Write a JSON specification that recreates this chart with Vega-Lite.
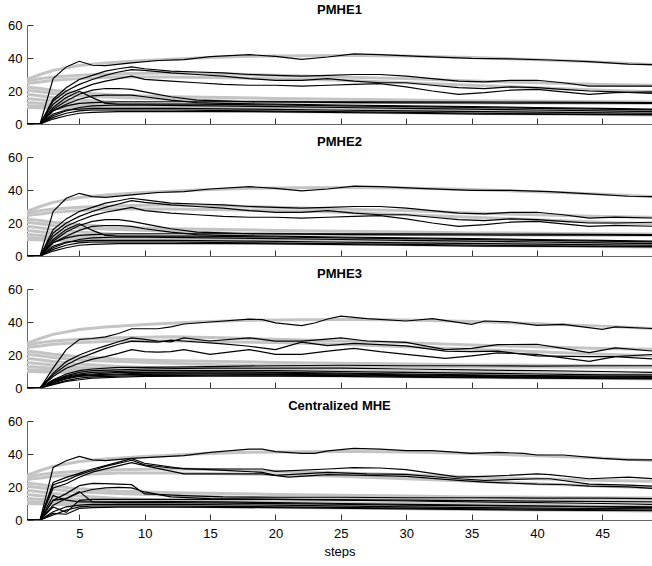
{
"$schema":"https://vega.github.io/schema/vega-lite/v6.json",
"padding":{"left":0,"top":4,"right":0,"bottom":0},
"spacing":5,
"config":{"font":"Liberation Sans","view":{"stroke":null},
"axis":{"grid":false,"labelFont":"Liberation Sans","labelFontSize":13,"labelColor":"#000","labelOverlap":false,"domainColor":"#666","domainWidth":1,"tickColor":"#333","tickSize":-6,"titleFont":"Liberation Sans","titleFontSize":13,"titleFontWeight":"normal","titleColor":"#000"},
"title":{"font":"Liberation Sans","fontSize":13,"fontWeight":"bold","color":"#000","anchor":"middle","offset":2,"baseline":"alphabetic","frame":"group"}},
"datasets":{
"truth":[
{"s":"T1","t":1,"v":27},{"s":"T1","t":2,"v":30},{"s":"T1","t":3,"v":32.5},{"s":"T1","t":5,"v":35.5},{"s":"T1","t":7,"v":37},{"s":"T1","t":10,"v":38.5},{"s":"T1","t":14,"v":40},{"s":"T1","t":18,"v":41},{"s":"T1","t":22,"v":41.3},{"s":"T1","t":26,"v":41.5},{"s":"T1","t":30,"v":41.2},{"s":"T1","t":35,"v":40.3},{"s":"T1","t":40,"v":39},{"s":"T1","t":45,"v":37.5},{"s":"T1","t":49,"v":36},
{"s":"T2","t":1,"v":26},{"s":"T2","t":2,"v":27.5},{"s":"T2","t":3,"v":28.5},{"s":"T2","t":5,"v":29.5},{"s":"T2","t":8,"v":30.5},{"s":"T2","t":12,"v":31},{"s":"T2","t":16,"v":30.5},{"s":"T2","t":20,"v":29.5},{"s":"T2","t":25,"v":28.5},{"s":"T2","t":30,"v":27.5},{"s":"T2","t":35,"v":26},{"s":"T2","t":40,"v":25},{"s":"T2","t":45,"v":24},{"s":"T2","t":49,"v":23.5},
{"s":"T3","t":1,"v":24.5},{"s":"T3","t":2,"v":25.5},{"s":"T3","t":3,"v":26.5},{"s":"T3","t":5,"v":27.5},{"s":"T3","t":8,"v":28.5},{"s":"T3","t":12,"v":28.5},{"s":"T3","t":16,"v":28},{"s":"T3","t":20,"v":27.5},{"s":"T3","t":25,"v":26.5},{"s":"T3","t":30,"v":25},{"s":"T3","t":35,"v":23.5},{"s":"T3","t":40,"v":22},{"s":"T3","t":45,"v":20.5},{"s":"T3","t":49,"v":19.5},
{"s":"T4","t":1,"v":22.5},{"s":"T4","t":2,"v":21.5},{"s":"T4","t":3,"v":20.5},{"s":"T4","t":5,"v":19},{"s":"T4","t":8,"v":17.5},{"s":"T4","t":12,"v":16.5},{"s":"T4","t":16,"v":16},{"s":"T4","t":20,"v":15.5},{"s":"T4","t":25,"v":15},{"s":"T4","t":30,"v":14.5},{"s":"T4","t":35,"v":14},{"s":"T4","t":40,"v":13.8},{"s":"T4","t":45,"v":13.5},{"s":"T4","t":49,"v":13.3},
{"s":"T5","t":1,"v":20.5},{"s":"T5","t":2,"v":19.5},{"s":"T5","t":3,"v":18.5},{"s":"T5","t":5,"v":17},{"s":"T5","t":8,"v":16},{"s":"T5","t":12,"v":15},{"s":"T5","t":16,"v":14},{"s":"T5","t":20,"v":13.5},{"s":"T5","t":25,"v":13},{"s":"T5","t":30,"v":13},{"s":"T5","t":35,"v":12.8},{"s":"T5","t":40,"v":12.7},{"s":"T5","t":45,"v":12.6},{"s":"T5","t":49,"v":12.5},
{"s":"T6","t":1,"v":18},{"s":"T6","t":3,"v":16},{"s":"T6","t":5,"v":14.5},{"s":"T6","t":8,"v":13},{"s":"T6","t":12,"v":12},{"s":"T6","t":16,"v":11.5},{"s":"T6","t":20,"v":11},{"s":"T6","t":25,"v":10.5},{"s":"T6","t":30,"v":10},{"s":"T6","t":35,"v":9.5},{"s":"T6","t":40,"v":9},{"s":"T6","t":45,"v":8.5},{"s":"T6","t":49,"v":8},
{"s":"T7","t":1,"v":15.5},{"s":"T7","t":3,"v":14},{"s":"T7","t":5,"v":12.5},{"s":"T7","t":8,"v":11.5},{"s":"T7","t":12,"v":11},{"s":"T7","t":16,"v":10.5},{"s":"T7","t":20,"v":10},{"s":"T7","t":25,"v":9.5},{"s":"T7","t":30,"v":9},{"s":"T7","t":35,"v":8.5},{"s":"T7","t":40,"v":8},{"s":"T7","t":45,"v":7.5},{"s":"T7","t":49,"v":7},
{"s":"T8","t":1,"v":13},{"s":"T8","t":3,"v":12},{"s":"T8","t":5,"v":11},{"s":"T8","t":8,"v":10.5},{"s":"T8","t":12,"v":10},{"s":"T8","t":16,"v":9.5},{"s":"T8","t":20,"v":9},{"s":"T8","t":25,"v":8.5},{"s":"T8","t":30,"v":8},{"s":"T8","t":35,"v":7.5},{"s":"T8","t":40,"v":7},{"s":"T8","t":45,"v":6.5},{"s":"T8","t":49,"v":6.2},
{"s":"T9","t":1,"v":11},{"s":"T9","t":3,"v":10.5},{"s":"T9","t":5,"v":10},{"s":"T9","t":8,"v":9.5},{"s":"T9","t":12,"v":9},{"s":"T9","t":16,"v":8.5},{"s":"T9","t":20,"v":8},{"s":"T9","t":25,"v":7.5},{"s":"T9","t":30,"v":7.2},{"s":"T9","t":35,"v":6.8},{"s":"T9","t":40,"v":6.5},{"s":"T9","t":45,"v":6},{"s":"T9","t":49,"v":5.8},
{"s":"T10","t":1,"v":10},{"s":"T10","t":3,"v":9.5},{"s":"T10","t":5,"v":9},{"s":"T10","t":8,"v":8.7},{"s":"T10","t":12,"v":8.3},{"s":"T10","t":16,"v":8},{"s":"T10","t":20,"v":7.6},{"s":"T10","t":25,"v":7.2},{"s":"T10","t":30,"v":6.8},{"s":"T10","t":35,"v":6.4},{"s":"T10","t":40,"v":6},{"s":"T10","t":45,"v":5.7},{"s":"T10","t":49,"v":5.5}
],
"est":[
{"p":1,"s":"A","t":1,"v":0},{"p":1,"s":"A","t":2,"v":0},{"p":1,"s":"A","t":3,"v":27.6},{"p":1,"s":"A","t":4,"v":34.6},{"p":1,"s":"A","t":5,"v":38},{"p":1,"s":"A","t":6,"v":35.6},{"p":1,"s":"A","t":7,"v":35.4},{"p":1,"s":"A","t":9,"v":37},{"p":1,"s":"A","t":11,"v":38.5},{"p":1,"s":"A","t":13,"v":39},{"p":1,"s":"A","t":15,"v":40.8},{"p":1,"s":"A","t":18,"v":42},{"p":1,"s":"A","t":20,"v":41},{"p":1,"s":"A","t":22,"v":39.2},{"p":1,"s":"A","t":24,"v":40.6},{"p":1,"s":"A","t":26,"v":42.5},{"p":1,"s":"A","t":28,"v":42},{"p":1,"s":"A","t":31,"v":41},{"p":1,"s":"A","t":35,"v":39.8},{"p":1,"s":"A","t":38,"v":39.5},{"p":1,"s":"A","t":41,"v":38.8},{"p":1,"s":"A","t":44,"v":37.8},{"p":1,"s":"A","t":47,"v":36.3},{"p":1,"s":"A","t":49,"v":36},
{"p":1,"s":"B","t":1,"v":0},{"p":1,"s":"B","t":2,"v":0},{"p":1,"s":"B","t":3,"v":15},{"p":1,"s":"B","t":4,"v":22},{"p":1,"s":"B","t":5,"v":27},{"p":1,"s":"B","t":6,"v":29.5},{"p":1,"s":"B","t":7,"v":32},{"p":1,"s":"B","t":8,"v":33.5},{"p":1,"s":"B","t":9,"v":34.6},{"p":1,"s":"B","t":10,"v":33.5},{"p":1,"s":"B","t":12,"v":32},{"p":1,"s":"B","t":14,"v":31.5},{"p":1,"s":"B","t":16,"v":31},{"p":1,"s":"B","t":18,"v":30},{"p":1,"s":"B","t":20,"v":29.5},{"p":1,"s":"B","t":22,"v":29},{"p":1,"s":"B","t":24,"v":29.5},{"p":1,"s":"B","t":26,"v":30},{"p":1,"s":"B","t":28,"v":30},{"p":1,"s":"B","t":30,"v":29},{"p":1,"s":"B","t":32,"v":27.5},{"p":1,"s":"B","t":34,"v":26},{"p":1,"s":"B","t":36,"v":25.5},{"p":1,"s":"B","t":38,"v":26.5},{"p":1,"s":"B","t":40,"v":26.5},{"p":1,"s":"B","t":42,"v":25},{"p":1,"s":"B","t":44,"v":23},{"p":1,"s":"B","t":46,"v":23},{"p":1,"s":"B","t":49,"v":23},
{"p":1,"s":"C","t":1,"v":0},{"p":1,"s":"C","t":2,"v":0},{"p":1,"s":"C","t":3,"v":12},{"p":1,"s":"C","t":4,"v":18},{"p":1,"s":"C","t":5,"v":21},{"p":1,"s":"C","t":6,"v":24},{"p":1,"s":"C","t":7,"v":26},{"p":1,"s":"C","t":8,"v":27.5},{"p":1,"s":"C","t":9,"v":29},{"p":1,"s":"C","t":10,"v":27},{"p":1,"s":"C","t":12,"v":26},{"p":1,"s":"C","t":14,"v":25},{"p":1,"s":"C","t":16,"v":24},{"p":1,"s":"C","t":18,"v":23.5},{"p":1,"s":"C","t":20,"v":23.5},{"p":1,"s":"C","t":22,"v":23},{"p":1,"s":"C","t":24,"v":23.5},{"p":1,"s":"C","t":26,"v":24},{"p":1,"s":"C","t":28,"v":24.5},{"p":1,"s":"C","t":30,"v":22.5},{"p":1,"s":"C","t":32,"v":20},{"p":1,"s":"C","t":34,"v":18},{"p":1,"s":"C","t":36,"v":19},{"p":1,"s":"C","t":38,"v":20.5},{"p":1,"s":"C","t":40,"v":21},{"p":1,"s":"C","t":42,"v":19.5},{"p":1,"s":"C","t":44,"v":18},{"p":1,"s":"C","t":46,"v":19},{"p":1,"s":"C","t":49,"v":19.5},
{"p":1,"s":"D","t":1,"v":0},{"p":1,"s":"D","t":2,"v":0},{"p":1,"s":"D","t":3,"v":14},{"p":1,"s":"D","t":4,"v":20},{"p":1,"s":"D","t":5,"v":24},{"p":1,"s":"D","t":6,"v":27},{"p":1,"s":"D","t":7,"v":29.5},{"p":1,"s":"D","t":8,"v":31.5},{"p":1,"s":"D","t":9,"v":33},{"p":1,"s":"D","t":10,"v":32.5},{"p":1,"s":"D","t":12,"v":31},{"p":1,"s":"D","t":14,"v":30},{"p":1,"s":"D","t":16,"v":29},{"p":1,"s":"D","t":18,"v":27.5},{"p":1,"s":"D","t":20,"v":26.5},{"p":1,"s":"D","t":22,"v":26.5},{"p":1,"s":"D","t":24,"v":27.5},{"p":1,"s":"D","t":26,"v":26},{"p":1,"s":"D","t":28,"v":25},{"p":1,"s":"D","t":30,"v":25},{"p":1,"s":"D","t":32,"v":23.5},{"p":1,"s":"D","t":34,"v":22},{"p":1,"s":"D","t":36,"v":21.5},{"p":1,"s":"D","t":38,"v":22.5},{"p":1,"s":"D","t":40,"v":22},{"p":1,"s":"D","t":42,"v":21},{"p":1,"s":"D","t":44,"v":20},{"p":1,"s":"D","t":46,"v":19.5},{"p":1,"s":"D","t":49,"v":18.5},
{"p":1,"s":"E","t":1,"v":0},{"p":1,"s":"E","t":2,"v":0},{"p":1,"s":"E","t":3,"v":9},{"p":1,"s":"E","t":4,"v":14},{"p":1,"s":"E","t":5,"v":18},{"p":1,"s":"E","t":6,"v":20.5},{"p":1,"s":"E","t":7,"v":21.5},{"p":1,"s":"E","t":8,"v":21.5},{"p":1,"s":"E","t":9,"v":21},{"p":1,"s":"E","t":10,"v":19.5},{"p":1,"s":"E","t":11,"v":18},{"p":1,"s":"E","t":12,"v":16.5},{"p":1,"s":"E","t":14,"v":14.5},{"p":1,"s":"E","t":16,"v":14},{"p":1,"s":"E","t":18,"v":13.5},{"p":1,"s":"E","t":22,"v":13.2},{"p":1,"s":"E","t":26,"v":13},{"p":1,"s":"E","t":30,"v":12.8},{"p":1,"s":"E","t":35,"v":12.8},{"p":1,"s":"E","t":40,"v":12.6},{"p":1,"s":"E","t":45,"v":12.6},{"p":1,"s":"E","t":49,"v":12.5},
{"p":1,"s":"F","t":1,"v":0},{"p":1,"s":"F","t":2,"v":0},{"p":1,"s":"F","t":3,"v":8},{"p":1,"s":"F","t":4,"v":12},{"p":1,"s":"F","t":5,"v":15},{"p":1,"s":"F","t":6,"v":17},{"p":1,"s":"F","t":7,"v":17.5},{"p":1,"s":"F","t":8,"v":17.5},{"p":1,"s":"F","t":9,"v":17.5},{"p":1,"s":"F","t":10,"v":16.5},{"p":1,"s":"F","t":12,"v":14.5},{"p":1,"s":"F","t":14,"v":13},{"p":1,"s":"F","t":16,"v":12.5},{"p":1,"s":"F","t":20,"v":12},{"p":1,"s":"F","t":25,"v":11.5},{"p":1,"s":"F","t":30,"v":11},{"p":1,"s":"F","t":35,"v":10.5},{"p":1,"s":"F","t":40,"v":10},{"p":1,"s":"F","t":45,"v":9.5},{"p":1,"s":"F","t":49,"v":9},
{"p":1,"s":"G","t":1,"v":0},{"p":1,"s":"G","t":2,"v":0},{"p":1,"s":"G","t":3,"v":10},{"p":1,"s":"G","t":4,"v":16},{"p":1,"s":"G","t":5,"v":19.8},{"p":1,"s":"G","t":6,"v":16},{"p":1,"s":"G","t":7,"v":12.5},{"p":1,"s":"G","t":8,"v":12},{"p":1,"s":"G","t":10,"v":12},{"p":1,"s":"G","t":14,"v":12},{"p":1,"s":"G","t":20,"v":11.5},{"p":1,"s":"G","t":25,"v":11},{"p":1,"s":"G","t":30,"v":10.5},{"p":1,"s":"G","t":35,"v":10},{"p":1,"s":"G","t":40,"v":9.5},{"p":1,"s":"G","t":45,"v":9},{"p":1,"s":"G","t":49,"v":8.5},
{"p":1,"s":"H","t":1,"v":0},{"p":1,"s":"H","t":2,"v":0},{"p":1,"s":"H","t":3,"v":8},{"p":1,"s":"H","t":4,"v":11},{"p":1,"s":"H","t":5,"v":12.5},{"p":1,"s":"H","t":6,"v":13},{"p":1,"s":"H","t":8,"v":13.5},{"p":1,"s":"H","t":10,"v":13.5},{"p":1,"s":"H","t":15,"v":13.5},{"p":1,"s":"H","t":20,"v":13.5},{"p":1,"s":"H","t":30,"v":13.5},{"p":1,"s":"H","t":40,"v":13.3},{"p":1,"s":"H","t":49,"v":13},
{"p":1,"s":"I","t":1,"v":0},{"p":1,"s":"I","t":2,"v":0},{"p":1,"s":"I","t":3,"v":5},{"p":1,"s":"I","t":4,"v":8},{"p":1,"s":"I","t":5,"v":10},{"p":1,"s":"I","t":6,"v":11},{"p":1,"s":"I","t":8,"v":11.5},{"p":1,"s":"I","t":10,"v":11.5},{"p":1,"s":"I","t":15,"v":11},{"p":1,"s":"I","t":20,"v":10.5},{"p":1,"s":"I","t":25,"v":10},{"p":1,"s":"I","t":30,"v":9.5},{"p":1,"s":"I","t":35,"v":9},{"p":1,"s":"I","t":40,"v":8.5},{"p":1,"s":"I","t":45,"v":8},{"p":1,"s":"I","t":49,"v":7.5},
{"p":1,"s":"J","t":1,"v":0},{"p":1,"s":"J","t":2,"v":0},{"p":1,"s":"J","t":3,"v":6},{"p":1,"s":"J","t":4,"v":8.5},{"p":1,"s":"J","t":5,"v":9},{"p":1,"s":"J","t":6,"v":9.5},{"p":1,"s":"J","t":8,"v":9.5},{"p":1,"s":"J","t":12,"v":9.5},{"p":1,"s":"J","t":18,"v":9},{"p":1,"s":"J","t":24,"v":8.5},{"p":1,"s":"J","t":30,"v":8},{"p":1,"s":"J","t":36,"v":7.5},{"p":1,"s":"J","t":42,"v":7},{"p":1,"s":"J","t":49,"v":6.5},
{"p":1,"s":"K","t":1,"v":0},{"p":1,"s":"K","t":2,"v":0},{"p":1,"s":"K","t":3,"v":4},{"p":1,"s":"K","t":4,"v":6.5},{"p":1,"s":"K","t":5,"v":8},{"p":1,"s":"K","t":6,"v":8.5},{"p":1,"s":"K","t":8,"v":8.5},{"p":1,"s":"K","t":12,"v":8.5},{"p":1,"s":"K","t":18,"v":8},{"p":1,"s":"K","t":24,"v":7.5},{"p":1,"s":"K","t":30,"v":7},{"p":1,"s":"K","t":36,"v":6.5},{"p":1,"s":"K","t":42,"v":6},{"p":1,"s":"K","t":49,"v":5.8},
{"p":1,"s":"L","t":1,"v":0},{"p":1,"s":"L","t":2,"v":0},{"p":1,"s":"L","t":3,"v":3},{"p":1,"s":"L","t":4,"v":5},{"p":1,"s":"L","t":5,"v":6.5},{"p":1,"s":"L","t":6,"v":7},{"p":1,"s":"L","t":8,"v":7.5},{"p":1,"s":"L","t":12,"v":7.5},{"p":1,"s":"L","t":18,"v":7.5},{"p":1,"s":"L","t":24,"v":7},{"p":1,"s":"L","t":30,"v":6.5},{"p":1,"s":"L","t":36,"v":6},{"p":1,"s":"L","t":42,"v":5.8},{"p":1,"s":"L","t":49,"v":5.5},

{"p":2,"s":"A","t":1,"v":0},{"p":2,"s":"A","t":2,"v":0},{"p":2,"s":"A","t":3,"v":27},{"p":2,"s":"A","t":4,"v":35},{"p":2,"s":"A","t":5,"v":38},{"p":2,"s":"A","t":6,"v":36},{"p":2,"s":"A","t":7,"v":35.5},{"p":2,"s":"A","t":9,"v":37},{"p":2,"s":"A","t":11,"v":38.5},{"p":2,"s":"A","t":13,"v":39},{"p":2,"s":"A","t":15,"v":40.6},{"p":2,"s":"A","t":18,"v":42},{"p":2,"s":"A","t":20,"v":41},{"p":2,"s":"A","t":22,"v":39.5},{"p":2,"s":"A","t":24,"v":40.6},{"p":2,"s":"A","t":26,"v":42.3},{"p":2,"s":"A","t":28,"v":42},{"p":2,"s":"A","t":31,"v":41},{"p":2,"s":"A","t":35,"v":39.8},{"p":2,"s":"A","t":38,"v":39.8},{"p":2,"s":"A","t":41,"v":39},{"p":2,"s":"A","t":44,"v":37.6},{"p":2,"s":"A","t":47,"v":36.2},{"p":2,"s":"A","t":49,"v":36},
{"p":2,"s":"B","t":1,"v":0},{"p":2,"s":"B","t":2,"v":0},{"p":2,"s":"B","t":3,"v":16},{"p":2,"s":"B","t":4,"v":22.5},{"p":2,"s":"B","t":5,"v":27},{"p":2,"s":"B","t":6,"v":29.5},{"p":2,"s":"B","t":7,"v":32},{"p":2,"s":"B","t":8,"v":33.5},{"p":2,"s":"B","t":9,"v":35},{"p":2,"s":"B","t":10,"v":34},{"p":2,"s":"B","t":12,"v":32},{"p":2,"s":"B","t":14,"v":31.5},{"p":2,"s":"B","t":16,"v":31},{"p":2,"s":"B","t":18,"v":30},{"p":2,"s":"B","t":20,"v":29.5},{"p":2,"s":"B","t":22,"v":29},{"p":2,"s":"B","t":24,"v":29.5},{"p":2,"s":"B","t":26,"v":30},{"p":2,"s":"B","t":28,"v":30},{"p":2,"s":"B","t":30,"v":29},{"p":2,"s":"B","t":32,"v":27.5},{"p":2,"s":"B","t":34,"v":26},{"p":2,"s":"B","t":36,"v":25.5},{"p":2,"s":"B","t":38,"v":26.5},{"p":2,"s":"B","t":40,"v":26.5},{"p":2,"s":"B","t":42,"v":25},{"p":2,"s":"B","t":44,"v":23},{"p":2,"s":"B","t":46,"v":23.5},{"p":2,"s":"B","t":49,"v":23},
{"p":2,"s":"C","t":1,"v":0},{"p":2,"s":"C","t":2,"v":0},{"p":2,"s":"C","t":3,"v":12},{"p":2,"s":"C","t":4,"v":18},{"p":2,"s":"C","t":5,"v":21.5},{"p":2,"s":"C","t":6,"v":24.5},{"p":2,"s":"C","t":7,"v":26.5},{"p":2,"s":"C","t":8,"v":28},{"p":2,"s":"C","t":9,"v":29.5},{"p":2,"s":"C","t":10,"v":27.5},{"p":2,"s":"C","t":12,"v":26},{"p":2,"s":"C","t":14,"v":25},{"p":2,"s":"C","t":16,"v":24},{"p":2,"s":"C","t":18,"v":23.5},{"p":2,"s":"C","t":20,"v":23.5},{"p":2,"s":"C","t":22,"v":23},{"p":2,"s":"C","t":24,"v":23.5},{"p":2,"s":"C","t":26,"v":24},{"p":2,"s":"C","t":28,"v":24.5},{"p":2,"s":"C","t":30,"v":22.5},{"p":2,"s":"C","t":32,"v":20},{"p":2,"s":"C","t":34,"v":18},{"p":2,"s":"C","t":36,"v":19},{"p":2,"s":"C","t":38,"v":20.5},{"p":2,"s":"C","t":40,"v":21},{"p":2,"s":"C","t":42,"v":19.5},{"p":2,"s":"C","t":44,"v":18},{"p":2,"s":"C","t":46,"v":18.5},{"p":2,"s":"C","t":49,"v":18},
{"p":2,"s":"D","t":1,"v":0},{"p":2,"s":"D","t":2,"v":0},{"p":2,"s":"D","t":3,"v":14},{"p":2,"s":"D","t":4,"v":20},{"p":2,"s":"D","t":5,"v":24},{"p":2,"s":"D","t":6,"v":27},{"p":2,"s":"D","t":7,"v":29.5},{"p":2,"s":"D","t":8,"v":31.5},{"p":2,"s":"D","t":9,"v":33.5},{"p":2,"s":"D","t":10,"v":32.5},{"p":2,"s":"D","t":12,"v":31},{"p":2,"s":"D","t":14,"v":30},{"p":2,"s":"D","t":16,"v":29},{"p":2,"s":"D","t":18,"v":27.5},{"p":2,"s":"D","t":20,"v":26.5},{"p":2,"s":"D","t":22,"v":26.5},{"p":2,"s":"D","t":24,"v":27.5},{"p":2,"s":"D","t":26,"v":26},{"p":2,"s":"D","t":28,"v":25},{"p":2,"s":"D","t":30,"v":25},{"p":2,"s":"D","t":32,"v":23.5},{"p":2,"s":"D","t":34,"v":22},{"p":2,"s":"D","t":36,"v":21.5},{"p":2,"s":"D","t":38,"v":22.5},{"p":2,"s":"D","t":40,"v":22},{"p":2,"s":"D","t":42,"v":21},{"p":2,"s":"D","t":44,"v":20},{"p":2,"s":"D","t":46,"v":20},{"p":2,"s":"D","t":49,"v":20.5},
{"p":2,"s":"E","t":1,"v":0},{"p":2,"s":"E","t":2,"v":0},{"p":2,"s":"E","t":3,"v":9},{"p":2,"s":"E","t":4,"v":14.5},{"p":2,"s":"E","t":5,"v":18.5},{"p":2,"s":"E","t":6,"v":21},{"p":2,"s":"E","t":7,"v":22},{"p":2,"s":"E","t":8,"v":22},{"p":2,"s":"E","t":9,"v":21},{"p":2,"s":"E","t":10,"v":19.5},{"p":2,"s":"E","t":11,"v":18},{"p":2,"s":"E","t":12,"v":16.5},{"p":2,"s":"E","t":14,"v":14.5},{"p":2,"s":"E","t":16,"v":14},{"p":2,"s":"E","t":18,"v":13.5},{"p":2,"s":"E","t":22,"v":13.2},{"p":2,"s":"E","t":26,"v":13},{"p":2,"s":"E","t":30,"v":12.8},{"p":2,"s":"E","t":35,"v":12.8},{"p":2,"s":"E","t":40,"v":12.6},{"p":2,"s":"E","t":45,"v":12.6},{"p":2,"s":"E","t":49,"v":12.5},
{"p":2,"s":"F","t":1,"v":0},{"p":2,"s":"F","t":2,"v":0},{"p":2,"s":"F","t":3,"v":8},{"p":2,"s":"F","t":4,"v":12},{"p":2,"s":"F","t":5,"v":15.5},{"p":2,"s":"F","t":6,"v":18},{"p":2,"s":"F","t":7,"v":18.5},{"p":2,"s":"F","t":8,"v":18.5},{"p":2,"s":"F","t":9,"v":18},{"p":2,"s":"F","t":10,"v":16.5},{"p":2,"s":"F","t":12,"v":14.5},{"p":2,"s":"F","t":14,"v":13},{"p":2,"s":"F","t":16,"v":12.5},{"p":2,"s":"F","t":20,"v":12},{"p":2,"s":"F","t":25,"v":11.5},{"p":2,"s":"F","t":30,"v":11},{"p":2,"s":"F","t":35,"v":10.5},{"p":2,"s":"F","t":40,"v":10},{"p":2,"s":"F","t":45,"v":9.5},{"p":2,"s":"F","t":49,"v":9},
{"p":2,"s":"G","t":1,"v":0},{"p":2,"s":"G","t":2,"v":0},{"p":2,"s":"G","t":3,"v":10},{"p":2,"s":"G","t":4,"v":16},{"p":2,"s":"G","t":5,"v":19.5},{"p":2,"s":"G","t":6,"v":15.5},{"p":2,"s":"G","t":7,"v":12.5},{"p":2,"s":"G","t":8,"v":12},{"p":2,"s":"G","t":10,"v":12},{"p":2,"s":"G","t":14,"v":12},{"p":2,"s":"G","t":20,"v":11.5},{"p":2,"s":"G","t":25,"v":11},{"p":2,"s":"G","t":30,"v":10.5},{"p":2,"s":"G","t":35,"v":10},{"p":2,"s":"G","t":40,"v":9.5},{"p":2,"s":"G","t":45,"v":9},{"p":2,"s":"G","t":49,"v":8.5},
{"p":2,"s":"H","t":1,"v":0},{"p":2,"s":"H","t":2,"v":0},{"p":2,"s":"H","t":3,"v":8},{"p":2,"s":"H","t":4,"v":11},{"p":2,"s":"H","t":5,"v":12.5},{"p":2,"s":"H","t":6,"v":13},{"p":2,"s":"H","t":8,"v":13.5},{"p":2,"s":"H","t":10,"v":13.5},{"p":2,"s":"H","t":15,"v":13.5},{"p":2,"s":"H","t":20,"v":13.5},{"p":2,"s":"H","t":30,"v":13.5},{"p":2,"s":"H","t":40,"v":13.3},{"p":2,"s":"H","t":49,"v":13},
{"p":2,"s":"I","t":1,"v":0},{"p":2,"s":"I","t":2,"v":0},{"p":2,"s":"I","t":3,"v":5},{"p":2,"s":"I","t":4,"v":8},{"p":2,"s":"I","t":5,"v":10},{"p":2,"s":"I","t":6,"v":11},{"p":2,"s":"I","t":8,"v":11.5},{"p":2,"s":"I","t":10,"v":11.5},{"p":2,"s":"I","t":15,"v":11},{"p":2,"s":"I","t":20,"v":10.5},{"p":2,"s":"I","t":25,"v":10},{"p":2,"s":"I","t":30,"v":9.5},{"p":2,"s":"I","t":35,"v":9},{"p":2,"s":"I","t":40,"v":8.5},{"p":2,"s":"I","t":45,"v":8},{"p":2,"s":"I","t":49,"v":7.5},
{"p":2,"s":"J","t":1,"v":0},{"p":2,"s":"J","t":2,"v":0},{"p":2,"s":"J","t":3,"v":6},{"p":2,"s":"J","t":4,"v":8.5},{"p":2,"s":"J","t":5,"v":9},{"p":2,"s":"J","t":6,"v":9.5},{"p":2,"s":"J","t":8,"v":9.5},{"p":2,"s":"J","t":12,"v":9.5},{"p":2,"s":"J","t":18,"v":9},{"p":2,"s":"J","t":24,"v":8.5},{"p":2,"s":"J","t":30,"v":8},{"p":2,"s":"J","t":36,"v":7.5},{"p":2,"s":"J","t":42,"v":7},{"p":2,"s":"J","t":49,"v":6.5},
{"p":2,"s":"K","t":1,"v":0},{"p":2,"s":"K","t":2,"v":0},{"p":2,"s":"K","t":3,"v":4},{"p":2,"s":"K","t":4,"v":6.5},{"p":2,"s":"K","t":5,"v":8},{"p":2,"s":"K","t":6,"v":8.5},{"p":2,"s":"K","t":8,"v":8.5},{"p":2,"s":"K","t":12,"v":8.5},{"p":2,"s":"K","t":18,"v":8},{"p":2,"s":"K","t":24,"v":7.5},{"p":2,"s":"K","t":30,"v":7},{"p":2,"s":"K","t":36,"v":6.5},{"p":2,"s":"K","t":42,"v":6},{"p":2,"s":"K","t":49,"v":5.8},
{"p":2,"s":"L","t":1,"v":0},{"p":2,"s":"L","t":2,"v":0},{"p":2,"s":"L","t":3,"v":3},{"p":2,"s":"L","t":4,"v":5},{"p":2,"s":"L","t":5,"v":6.5},{"p":2,"s":"L","t":6,"v":7},{"p":2,"s":"L","t":8,"v":7.5},{"p":2,"s":"L","t":12,"v":7.5},{"p":2,"s":"L","t":18,"v":7.5},{"p":2,"s":"L","t":24,"v":7},{"p":2,"s":"L","t":30,"v":6.5},{"p":2,"s":"L","t":36,"v":6},{"p":2,"s":"L","t":42,"v":5.8},{"p":2,"s":"L","t":49,"v":5.5},

{"p":3,"s":"A","t":1,"v":0},{"p":3,"s":"A","t":2,"v":0},{"p":3,"s":"A","t":3,"v":12},{"p":3,"s":"A","t":4,"v":23.3},{"p":3,"s":"A","t":5,"v":29.4},{"p":3,"s":"A","t":6,"v":30},{"p":3,"s":"A","t":7,"v":31},{"p":3,"s":"A","t":8,"v":33},{"p":3,"s":"A","t":9,"v":35.9},{"p":3,"s":"A","t":11,"v":35.9},{"p":3,"s":"A","t":12,"v":37},{"p":3,"s":"A","t":13,"v":38.8},{"p":3,"s":"A","t":15,"v":40},{"p":3,"s":"A","t":18,"v":41.8},{"p":3,"s":"A","t":19,"v":41.4},{"p":3,"s":"A","t":20,"v":39.5},{"p":3,"s":"A","t":22,"v":37.8},{"p":3,"s":"A","t":23,"v":39.4},{"p":3,"s":"A","t":24,"v":41.8},{"p":3,"s":"A","t":25,"v":43.5},{"p":3,"s":"A","t":27,"v":42},{"p":3,"s":"A","t":30,"v":40.6},{"p":3,"s":"A","t":32,"v":42},{"p":3,"s":"A","t":35,"v":38.6},{"p":3,"s":"A","t":36,"v":40.6},{"p":3,"s":"A","t":38,"v":40},{"p":3,"s":"A","t":40,"v":38},{"p":3,"s":"A","t":42,"v":38.6},{"p":3,"s":"A","t":45,"v":35.5},{"p":3,"s":"A","t":46,"v":37},{"p":3,"s":"A","t":49,"v":36},
{"p":3,"s":"B","t":1,"v":0},{"p":3,"s":"B","t":2,"v":0},{"p":3,"s":"B","t":3,"v":9},{"p":3,"s":"B","t":4,"v":16},{"p":3,"s":"B","t":5,"v":20},{"p":3,"s":"B","t":6,"v":23},{"p":3,"s":"B","t":7,"v":25.5},{"p":3,"s":"B","t":8,"v":28},{"p":3,"s":"B","t":9,"v":30.4},{"p":3,"s":"B","t":10,"v":29.5},{"p":3,"s":"B","t":11,"v":28.5},{"p":3,"s":"B","t":12,"v":28},{"p":3,"s":"B","t":13,"v":30.4},{"p":3,"s":"B","t":15,"v":28.5},{"p":3,"s":"B","t":18,"v":30.4},{"p":3,"s":"B","t":20,"v":28.4},{"p":3,"s":"B","t":22,"v":28.4},{"p":3,"s":"B","t":23,"v":29},{"p":3,"s":"B","t":25,"v":30.4},{"p":3,"s":"B","t":27,"v":28.5},{"p":3,"s":"B","t":30,"v":27.6},{"p":3,"s":"B","t":33,"v":23.3},{"p":3,"s":"B","t":35,"v":24},{"p":3,"s":"B","t":37,"v":26.3},{"p":3,"s":"B","t":40,"v":26.5},{"p":3,"s":"B","t":42,"v":24},{"p":3,"s":"B","t":44,"v":21.5},{"p":3,"s":"B","t":46,"v":24.3},{"p":3,"s":"B","t":49,"v":22.3},
{"p":3,"s":"C","t":1,"v":0},{"p":3,"s":"C","t":2,"v":0},{"p":3,"s":"C","t":3,"v":7},{"p":3,"s":"C","t":4,"v":12},{"p":3,"s":"C","t":5,"v":15},{"p":3,"s":"C","t":6,"v":17.5},{"p":3,"s":"C","t":7,"v":19},{"p":3,"s":"C","t":8,"v":21},{"p":3,"s":"C","t":9,"v":23.3},{"p":3,"s":"C","t":10,"v":22},{"p":3,"s":"C","t":11,"v":21.7},{"p":3,"s":"C","t":12,"v":22},{"p":3,"s":"C","t":13,"v":23.3},{"p":3,"s":"C","t":15,"v":20.4},{"p":3,"s":"C","t":18,"v":23.3},{"p":3,"s":"C","t":20,"v":20.4},{"p":3,"s":"C","t":22,"v":20.4},{"p":3,"s":"C","t":24,"v":22.3},{"p":3,"s":"C","t":26,"v":24},{"p":3,"s":"C","t":28,"v":22},{"p":3,"s":"C","t":30,"v":20.4},{"p":3,"s":"C","t":33,"v":18},{"p":3,"s":"C","t":35,"v":19.5},{"p":3,"s":"C","t":37,"v":21.3},{"p":3,"s":"C","t":40,"v":20.4},{"p":3,"s":"C","t":44,"v":16.1},{"p":3,"s":"C","t":46,"v":19},{"p":3,"s":"C","t":49,"v":20.4},
{"p":3,"s":"D","t":1,"v":0},{"p":3,"s":"D","t":2,"v":0},{"p":3,"s":"D","t":3,"v":8},{"p":3,"s":"D","t":4,"v":14},{"p":3,"s":"D","t":5,"v":18},{"p":3,"s":"D","t":6,"v":21},{"p":3,"s":"D","t":7,"v":24},{"p":3,"s":"D","t":8,"v":26.5},{"p":3,"s":"D","t":9,"v":28.4},{"p":3,"s":"D","t":11,"v":27.8},{"p":3,"s":"D","t":12,"v":29},{"p":3,"s":"D","t":13,"v":28.5},{"p":3,"s":"D","t":16,"v":26.7},{"p":3,"s":"D","t":18,"v":25.3},{"p":3,"s":"D","t":20,"v":23.3},{"p":3,"s":"D","t":22,"v":27.8},{"p":3,"s":"D","t":24,"v":25.7},{"p":3,"s":"D","t":26,"v":27},{"p":3,"s":"D","t":30,"v":25.5},{"p":3,"s":"D","t":33,"v":22.3},{"p":3,"s":"D","t":35,"v":22},{"p":3,"s":"D","t":37,"v":22.3},{"p":3,"s":"D","t":40,"v":19.5},{"p":3,"s":"D","t":44,"v":19},{"p":3,"s":"D","t":46,"v":19},{"p":3,"s":"D","t":49,"v":17.5},
{"p":3,"s":"E","t":1,"v":0},{"p":3,"s":"E","t":2,"v":0},{"p":3,"s":"E","t":3,"v":5},{"p":3,"s":"E","t":4,"v":8.5},{"p":3,"s":"E","t":5,"v":10.5},{"p":3,"s":"E","t":6,"v":11.5},{"p":3,"s":"E","t":8,"v":12.5},{"p":3,"s":"E","t":10,"v":12.5},{"p":3,"s":"E","t":15,"v":13},{"p":3,"s":"E","t":20,"v":13.5},{"p":3,"s":"E","t":25,"v":13.8},{"p":3,"s":"E","t":30,"v":13.5},{"p":3,"s":"E","t":35,"v":13.5},{"p":3,"s":"E","t":40,"v":13.3},{"p":3,"s":"E","t":45,"v":13.5},{"p":3,"s":"E","t":49,"v":13.5},
{"p":3,"s":"F","t":1,"v":0},{"p":3,"s":"F","t":2,"v":0},{"p":3,"s":"F","t":3,"v":4.5},{"p":3,"s":"F","t":4,"v":7.5},{"p":3,"s":"F","t":5,"v":9.5},{"p":3,"s":"F","t":6,"v":10.5},{"p":3,"s":"F","t":8,"v":11},{"p":3,"s":"F","t":10,"v":11.5},{"p":3,"s":"F","t":15,"v":12},{"p":3,"s":"F","t":20,"v":12},{"p":3,"s":"F","t":25,"v":12},{"p":3,"s":"F","t":30,"v":11.5},{"p":3,"s":"F","t":35,"v":11},{"p":3,"s":"F","t":40,"v":10.5},{"p":3,"s":"F","t":45,"v":10},{"p":3,"s":"F","t":49,"v":9.5},
{"p":3,"s":"G","t":1,"v":0},{"p":3,"s":"G","t":2,"v":0},{"p":3,"s":"G","t":3,"v":4},{"p":3,"s":"G","t":4,"v":7},{"p":3,"s":"G","t":5,"v":8.5},{"p":3,"s":"G","t":6,"v":9.5},{"p":3,"s":"G","t":8,"v":10},{"p":3,"s":"G","t":10,"v":10.5},{"p":3,"s":"G","t":15,"v":10.5},{"p":3,"s":"G","t":20,"v":10.5},{"p":3,"s":"G","t":25,"v":10},{"p":3,"s":"G","t":30,"v":9.5},{"p":3,"s":"G","t":35,"v":9},{"p":3,"s":"G","t":40,"v":8.5},{"p":3,"s":"G","t":45,"v":8},{"p":3,"s":"G","t":49,"v":8},
{"p":3,"s":"H","t":1,"v":0},{"p":3,"s":"H","t":2,"v":0},{"p":3,"s":"H","t":3,"v":4},{"p":3,"s":"H","t":4,"v":6.5},{"p":3,"s":"H","t":5,"v":8},{"p":3,"s":"H","t":6,"v":8.5},{"p":3,"s":"H","t":8,"v":9.5},{"p":3,"s":"H","t":10,"v":9.5},{"p":3,"s":"H","t":15,"v":9.8},{"p":3,"s":"H","t":20,"v":9.5},{"p":3,"s":"H","t":25,"v":9},{"p":3,"s":"H","t":30,"v":8.5},{"p":3,"s":"H","t":35,"v":8},{"p":3,"s":"H","t":40,"v":7.5},{"p":3,"s":"H","t":45,"v":7.2},{"p":3,"s":"H","t":49,"v":7},
{"p":3,"s":"I","t":1,"v":0},{"p":3,"s":"I","t":2,"v":0},{"p":3,"s":"I","t":3,"v":3.5},{"p":3,"s":"I","t":4,"v":6},{"p":3,"s":"I","t":5,"v":7.5},{"p":3,"s":"I","t":6,"v":8},{"p":3,"s":"I","t":8,"v":8.5},{"p":3,"s":"I","t":10,"v":9},{"p":3,"s":"I","t":15,"v":9},{"p":3,"s":"I","t":20,"v":9},{"p":3,"s":"I","t":25,"v":8.5},{"p":3,"s":"I","t":30,"v":8},{"p":3,"s":"I","t":35,"v":7.5},{"p":3,"s":"I","t":40,"v":7},{"p":3,"s":"I","t":45,"v":6.8},{"p":3,"s":"I","t":49,"v":6.5},
{"p":3,"s":"J","t":1,"v":0},{"p":3,"s":"J","t":2,"v":0},{"p":3,"s":"J","t":3,"v":3},{"p":3,"s":"J","t":4,"v":5.5},{"p":3,"s":"J","t":5,"v":7},{"p":3,"s":"J","t":6,"v":7.5},{"p":3,"s":"J","t":8,"v":8},{"p":3,"s":"J","t":10,"v":8.2},{"p":3,"s":"J","t":15,"v":8.5},{"p":3,"s":"J","t":20,"v":8.2},{"p":3,"s":"J","t":25,"v":8},{"p":3,"s":"J","t":30,"v":7.5},{"p":3,"s":"J","t":35,"v":7},{"p":3,"s":"J","t":40,"v":6.5},{"p":3,"s":"J","t":45,"v":6.2},{"p":3,"s":"J","t":49,"v":6},
{"p":3,"s":"K","t":1,"v":0},{"p":3,"s":"K","t":2,"v":0},{"p":3,"s":"K","t":3,"v":2.5},{"p":3,"s":"K","t":4,"v":4.5},{"p":3,"s":"K","t":5,"v":6},{"p":3,"s":"K","t":6,"v":6.8},{"p":3,"s":"K","t":8,"v":7.2},{"p":3,"s":"K","t":10,"v":7.5},{"p":3,"s":"K","t":15,"v":7.8},{"p":3,"s":"K","t":20,"v":7.8},{"p":3,"s":"K","t":25,"v":7.5},{"p":3,"s":"K","t":30,"v":7},{"p":3,"s":"K","t":35,"v":6.5},{"p":3,"s":"K","t":40,"v":6.2},{"p":3,"s":"K","t":45,"v":6},{"p":3,"s":"K","t":49,"v":5.8},
{"p":3,"s":"L","t":1,"v":0},{"p":3,"s":"L","t":2,"v":0},{"p":3,"s":"L","t":3,"v":2},{"p":3,"s":"L","t":4,"v":4},{"p":3,"s":"L","t":5,"v":5},{"p":3,"s":"L","t":6,"v":6},{"p":3,"s":"L","t":8,"v":6.5},{"p":3,"s":"L","t":10,"v":7},{"p":3,"s":"L","t":15,"v":7.2},{"p":3,"s":"L","t":20,"v":7.2},{"p":3,"s":"L","t":25,"v":7},{"p":3,"s":"L","t":30,"v":6.5},{"p":3,"s":"L","t":35,"v":6.2},{"p":3,"s":"L","t":40,"v":6},{"p":3,"s":"L","t":45,"v":5.7},{"p":3,"s":"L","t":49,"v":5.5},

{"p":4,"s":"A","t":1,"v":0},{"p":4,"s":"A","t":2,"v":0},{"p":4,"s":"A","t":3,"v":31.9},{"p":4,"s":"A","t":4,"v":35.9},{"p":4,"s":"A","t":5,"v":38.6},{"p":4,"s":"A","t":6,"v":36.4},{"p":4,"s":"A","t":7,"v":36},{"p":4,"s":"A","t":9,"v":37.4},{"p":4,"s":"A","t":13,"v":39},{"p":4,"s":"A","t":15,"v":41},{"p":4,"s":"A","t":18,"v":43},{"p":4,"s":"A","t":19,"v":43},{"p":4,"s":"A","t":20,"v":41.4},{"p":4,"s":"A","t":22,"v":40.4},{"p":4,"s":"A","t":23,"v":40.4},{"p":4,"s":"A","t":24,"v":41.9},{"p":4,"s":"A","t":26,"v":43.4},{"p":4,"s":"A","t":28,"v":43},{"p":4,"s":"A","t":30,"v":42},{"p":4,"s":"A","t":32,"v":42},{"p":4,"s":"A","t":35,"v":40.4},{"p":4,"s":"A","t":37,"v":41},{"p":4,"s":"A","t":39,"v":40.4},{"p":4,"s":"A","t":40,"v":39.4},{"p":4,"s":"A","t":42,"v":39.4},{"p":4,"s":"A","t":45,"v":37.3},{"p":4,"s":"A","t":47,"v":36.4},{"p":4,"s":"A","t":49,"v":36.4},
{"p":4,"s":"B","t":1,"v":0},{"p":4,"s":"B","t":2,"v":0},{"p":4,"s":"B","t":3,"v":22.8},{"p":4,"s":"B","t":4,"v":25.8},{"p":4,"s":"B","t":5,"v":28.3},{"p":4,"s":"B","t":6,"v":30.9},{"p":4,"s":"B","t":7,"v":33},{"p":4,"s":"B","t":9,"v":37.2},{"p":4,"s":"B","t":10,"v":34.4},{"p":4,"s":"B","t":13,"v":31},{"p":4,"s":"B","t":15,"v":30.9},{"p":4,"s":"B","t":19,"v":30.9},{"p":4,"s":"B","t":20,"v":29.5},{"p":4,"s":"B","t":24,"v":30.9},{"p":4,"s":"B","t":26,"v":31.7},{"p":4,"s":"B","t":28,"v":31.5},{"p":4,"s":"B","t":30,"v":30.5},{"p":4,"s":"B","t":34,"v":26},{"p":4,"s":"B","t":36,"v":26.4},{"p":4,"s":"B","t":40,"v":27.9},{"p":4,"s":"B","t":41,"v":27.5},{"p":4,"s":"B","t":44,"v":25},{"p":4,"s":"B","t":47,"v":26},{"p":4,"s":"B","t":49,"v":25},
{"p":4,"s":"C","t":1,"v":0},{"p":4,"s":"C","t":2,"v":0},{"p":4,"s":"C","t":3,"v":21.4},{"p":4,"s":"C","t":4,"v":24},{"p":4,"s":"C","t":5,"v":27.5},{"p":4,"s":"C","t":6,"v":30},{"p":4,"s":"C","t":7,"v":32.5},{"p":4,"s":"C","t":9,"v":36.2},{"p":4,"s":"C","t":10,"v":33.4},{"p":4,"s":"C","t":12,"v":31.5},{"p":4,"s":"C","t":15,"v":30.5},{"p":4,"s":"C","t":19,"v":28.9},{"p":4,"s":"C","t":20,"v":27},{"p":4,"s":"C","t":24,"v":28.9},{"p":4,"s":"C","t":27,"v":27.9},{"p":4,"s":"C","t":30,"v":27.6},{"p":4,"s":"C","t":34,"v":25},{"p":4,"s":"C","t":36,"v":24},{"p":4,"s":"C","t":40,"v":25},{"p":4,"s":"C","t":41,"v":25},{"p":4,"s":"C","t":44,"v":21.7},{"p":4,"s":"C","t":47,"v":21.1},{"p":4,"s":"C","t":49,"v":20.5},
{"p":4,"s":"D","t":1,"v":0},{"p":4,"s":"D","t":2,"v":0},{"p":4,"s":"D","t":3,"v":19.4},{"p":4,"s":"D","t":4,"v":22},{"p":4,"s":"D","t":5,"v":25.9},{"p":4,"s":"D","t":6,"v":29},{"p":4,"s":"D","t":7,"v":31},{"p":4,"s":"D","t":9,"v":34.8},{"p":4,"s":"D","t":10,"v":33},{"p":4,"s":"D","t":13,"v":28},{"p":4,"s":"D","t":15,"v":28},{"p":4,"s":"D","t":19,"v":27.9},{"p":4,"s":"D","t":21,"v":26},{"p":4,"s":"D","t":24,"v":27.5},{"p":4,"s":"D","t":27,"v":27},{"p":4,"s":"D","t":30,"v":26.4},{"p":4,"s":"D","t":34,"v":24},{"p":4,"s":"D","t":36,"v":23},{"p":4,"s":"D","t":40,"v":21.7},{"p":4,"s":"D","t":42,"v":21.5},{"p":4,"s":"D","t":44,"v":20.5},{"p":4,"s":"D","t":47,"v":20.1},{"p":4,"s":"D","t":49,"v":19.1},
{"p":4,"s":"E","t":1,"v":0},{"p":4,"s":"E","t":2,"v":0},{"p":4,"s":"E","t":3,"v":12},{"p":4,"s":"E","t":4,"v":16},{"p":4,"s":"E","t":5,"v":20.8},{"p":4,"s":"E","t":6,"v":22.2},{"p":4,"s":"E","t":7,"v":22},{"p":4,"s":"E","t":9,"v":21.4},{"p":4,"s":"E","t":10,"v":15.8},{"p":4,"s":"E","t":13,"v":14.8},{"p":4,"s":"E","t":16,"v":14},{"p":4,"s":"E","t":20,"v":13.8},{"p":4,"s":"E","t":25,"v":13.8},{"p":4,"s":"E","t":30,"v":13.5},{"p":4,"s":"E","t":35,"v":13.5},{"p":4,"s":"E","t":40,"v":13.3},{"p":4,"s":"E","t":45,"v":13.2},{"p":4,"s":"E","t":49,"v":13},
{"p":4,"s":"F","t":1,"v":0},{"p":4,"s":"F","t":2,"v":0},{"p":4,"s":"F","t":3,"v":9},{"p":4,"s":"F","t":4,"v":13},{"p":4,"s":"F","t":5,"v":16.5},{"p":4,"s":"F","t":6,"v":18.5},{"p":4,"s":"F","t":7,"v":19.5},{"p":4,"s":"F","t":8,"v":19.8},{"p":4,"s":"F","t":9,"v":19.5},{"p":4,"s":"F","t":10,"v":17},{"p":4,"s":"F","t":12,"v":14},{"p":4,"s":"F","t":15,"v":13},{"p":4,"s":"F","t":20,"v":12.5},{"p":4,"s":"F","t":25,"v":12},{"p":4,"s":"F","t":30,"v":11.5},{"p":4,"s":"F","t":35,"v":11},{"p":4,"s":"F","t":40,"v":10.5},{"p":4,"s":"F","t":45,"v":10},{"p":4,"s":"F","t":49,"v":9.5},
{"p":4,"s":"G","t":1,"v":0},{"p":4,"s":"G","t":2,"v":0},{"p":4,"s":"G","t":3,"v":11.9},{"p":4,"s":"G","t":4,"v":13},{"p":4,"s":"G","t":5,"v":17.2},{"p":4,"s":"G","t":6,"v":10.9},{"p":4,"s":"G","t":8,"v":11},{"p":4,"s":"G","t":12,"v":11.2},{"p":4,"s":"G","t":16,"v":11},{"p":4,"s":"G","t":20,"v":10.5},{"p":4,"s":"G","t":25,"v":10},{"p":4,"s":"G","t":30,"v":9.5},{"p":4,"s":"G","t":35,"v":9},{"p":4,"s":"G","t":40,"v":8.5},{"p":4,"s":"G","t":45,"v":8},{"p":4,"s":"G","t":49,"v":7.5},
{"p":4,"s":"H","t":1,"v":0},{"p":4,"s":"H","t":2,"v":0},{"p":4,"s":"H","t":3,"v":7.9},{"p":4,"s":"H","t":4,"v":4.6},{"p":4,"s":"H","t":5,"v":11.9},{"p":4,"s":"H","t":6,"v":12.5},{"p":4,"s":"H","t":8,"v":12.5},{"p":4,"s":"H","t":12,"v":12.5},{"p":4,"s":"H","t":20,"v":12.5},{"p":4,"s":"H","t":30,"v":12},{"p":4,"s":"H","t":40,"v":11.5},{"p":4,"s":"H","t":49,"v":11},
{"p":4,"s":"I","t":1,"v":0},{"p":4,"s":"I","t":2,"v":0},{"p":4,"s":"I","t":3,"v":14.8},{"p":4,"s":"I","t":4,"v":12},{"p":4,"s":"I","t":5,"v":11},{"p":4,"s":"I","t":6,"v":11},{"p":4,"s":"I","t":8,"v":10.5},{"p":4,"s":"I","t":12,"v":10.5},{"p":4,"s":"I","t":20,"v":10},{"p":4,"s":"I","t":30,"v":9},{"p":4,"s":"I","t":40,"v":8.5},{"p":4,"s":"I","t":49,"v":8},
{"p":4,"s":"J","t":1,"v":0},{"p":4,"s":"J","t":2,"v":0},{"p":4,"s":"J","t":3,"v":5},{"p":4,"s":"J","t":4,"v":8},{"p":4,"s":"J","t":5,"v":9},{"p":4,"s":"J","t":6,"v":9.5},{"p":4,"s":"J","t":8,"v":9.5},{"p":4,"s":"J","t":12,"v":9.5},{"p":4,"s":"J","t":20,"v":9},{"p":4,"s":"J","t":30,"v":8},{"p":4,"s":"J","t":40,"v":7.2},{"p":4,"s":"J","t":49,"v":6.8},
{"p":4,"s":"K","t":1,"v":0},{"p":4,"s":"K","t":2,"v":0},{"p":4,"s":"K","t":3,"v":3},{"p":4,"s":"K","t":4,"v":6},{"p":4,"s":"K","t":5,"v":8},{"p":4,"s":"K","t":6,"v":8.5},{"p":4,"s":"K","t":8,"v":8.5},{"p":4,"s":"K","t":12,"v":8.5},{"p":4,"s":"K","t":20,"v":8},{"p":4,"s":"K","t":30,"v":7.2},{"p":4,"s":"K","t":40,"v":6.5},{"p":4,"s":"K","t":49,"v":6},
{"p":4,"s":"L","t":1,"v":0},{"p":4,"s":"L","t":2,"v":0},{"p":4,"s":"L","t":3,"v":4},{"p":4,"s":"L","t":4,"v":3.5},{"p":4,"s":"L","t":5,"v":7},{"p":4,"s":"L","t":6,"v":7.5},{"p":4,"s":"L","t":8,"v":7.8},{"p":4,"s":"L","t":12,"v":7.8},{"p":4,"s":"L","t":20,"v":7.5},{"p":4,"s":"L","t":30,"v":6.8},{"p":4,"s":"L","t":40,"v":6},{"p":4,"s":"L","t":49,"v":5.6}
]},
"vconcat":[
{"width":625,"height":99,"title":"PMHE1",
"encoding":{"x":{"field":"t","type":"quantitative","scale":{"domain":[1,48.8],"nice":false,"zero":false},"axis":{"values":[5,10,15,20,25,30,35,40,45],"labels":false,"title":null}},"y":{"field":"v","type":"quantitative","scale":{"domain":[0,60],"nice":false},"axis":{"values":[0,20,40,60],"title":null,"labelPadding":11,"labelOverlap":false,"labelBound":false,"minExtent":27,"maxExtent":27}},"detail":{"field":"s"}},
"layer":[
{"data":{"name":"truth"},"mark":{"type":"line","stroke":"#c4c4c4","strokeWidth":3,"clip":true}},
{"data":{"name":"est"},"transform":[{"filter":"datum.p==1"}],"mark":{"type":"line","stroke":"#000","strokeWidth":1.2,"clip":true}}]},
{"width":625,"height":99,"title":"PMHE2",
"encoding":{"x":{"field":"t","type":"quantitative","scale":{"domain":[1,48.8],"nice":false,"zero":false},"axis":{"values":[5,10,15,20,25,30,35,40,45],"labels":false,"title":null}},"y":{"field":"v","type":"quantitative","scale":{"domain":[0,60],"nice":false},"axis":{"values":[0,20,40,60],"title":null,"labelPadding":11,"labelOverlap":false,"labelBound":false,"minExtent":27,"maxExtent":27}},"detail":{"field":"s"}},
"layer":[
{"data":{"name":"truth"},"mark":{"type":"line","stroke":"#c4c4c4","strokeWidth":3,"clip":true}},
{"data":{"name":"est"},"transform":[{"filter":"datum.p==2"}],"mark":{"type":"line","stroke":"#000","strokeWidth":1.2,"clip":true}}]},
{"width":625,"height":99,"title":"PMHE3",
"encoding":{"x":{"field":"t","type":"quantitative","scale":{"domain":[1,48.8],"nice":false,"zero":false},"axis":{"values":[5,10,15,20,25,30,35,40,45],"labels":false,"title":null}},"y":{"field":"v","type":"quantitative","scale":{"domain":[0,60],"nice":false},"axis":{"values":[0,20,40,60],"title":null,"labelPadding":11,"labelOverlap":false,"labelBound":false,"minExtent":27,"maxExtent":27}},"detail":{"field":"s"}},
"layer":[
{"data":{"name":"truth"},"mark":{"type":"line","stroke":"#c4c4c4","strokeWidth":3,"clip":true}},
{"data":{"name":"est"},"transform":[{"filter":"datum.p==3"}],"mark":{"type":"line","stroke":"#000","strokeWidth":1.2,"clip":true}}]},
{"width":625,"height":99,"title":"Centralized MHE",
"encoding":{"x":{"field":"t","type":"quantitative","scale":{"domain":[1,48.8],"nice":false,"zero":false},"axis":{"values":[5,10,15,20,25,30,35,40,45],"title":"steps","labelPadding":13,"titlePadding":5,"labelOverlap":false}},"y":{"field":"v","type":"quantitative","scale":{"domain":[0,60],"nice":false},"axis":{"values":[0,20,40,60],"title":null,"labelPadding":11,"labelOverlap":false,"labelBound":false,"minExtent":27,"maxExtent":27}},"detail":{"field":"s"}},
"layer":[
{"data":{"name":"truth"},"mark":{"type":"line","stroke":"#c4c4c4","strokeWidth":3,"clip":true}},
{"data":{"name":"est"},"transform":[{"filter":"datum.p==4"}],"mark":{"type":"line","stroke":"#000","strokeWidth":1.2,"clip":true}}]}
]
}
